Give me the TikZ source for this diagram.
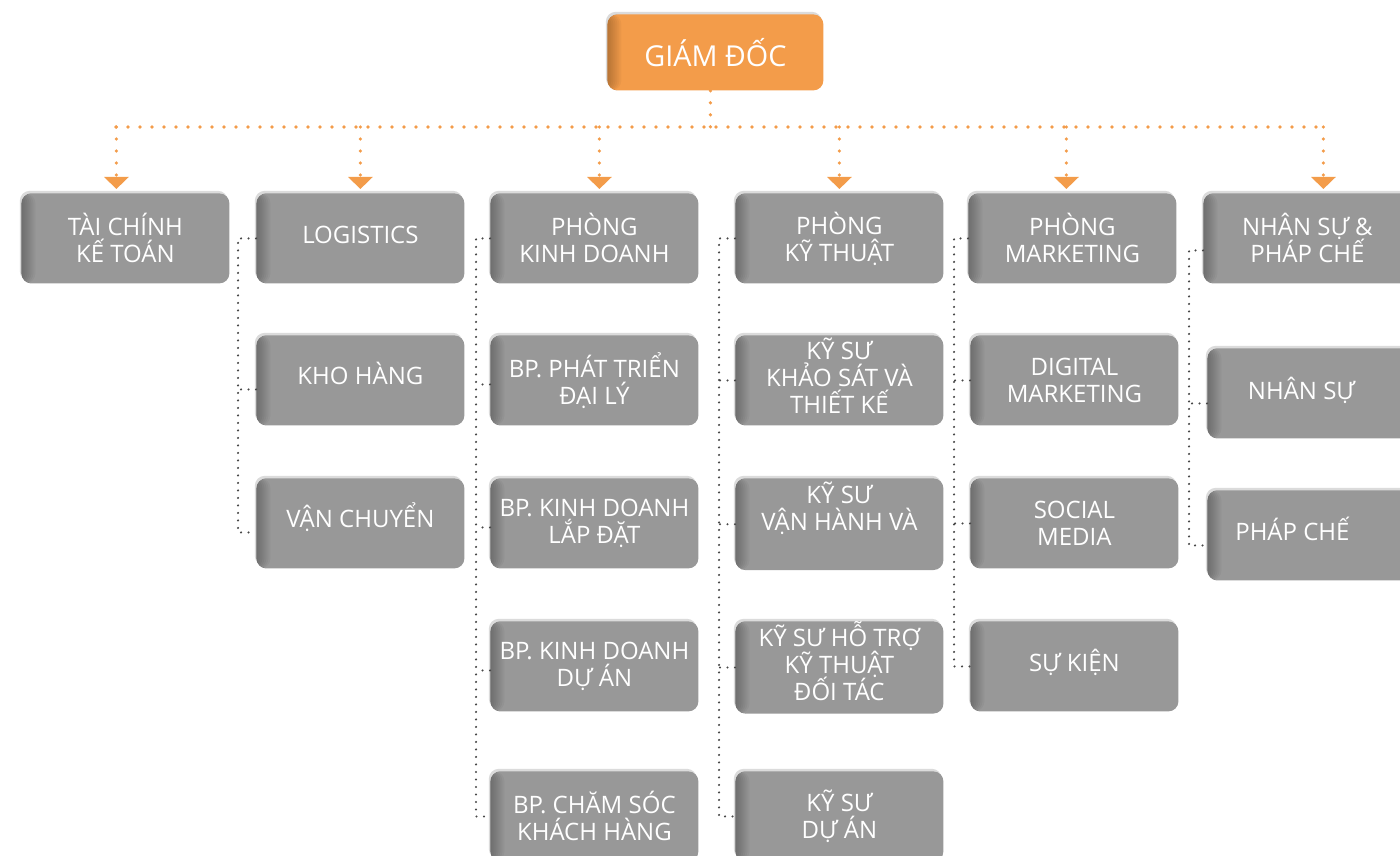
\documentclass[tikz,border=0pt]{standalone}
\usepackage{fontspec}
\setmainfont{Open Sans}
\usetikzlibrary{arrows.meta,shadows}

\definecolor{BoxGray}{HTML}{989898}
\definecolor{Boss}{HTML}{F39C4A}
\definecolor{DotGray}{HTML}{484848}

\tikzset{
    side shade/.style={path picture={
        \foreach \w in {1,...,7}
            \fill[black, opacity=#1] (path picture bounding box.south west)
                rectangle ([xshift=\w pt]path picture bounding box.north west);}},
    unit/.style={anchor=north west, rounded corners=5pt, inner sep=2pt,
        minimum width=104pt, minimum height=45pt, align=center, text=white,
        font={\fontsize{12}{13.5}\selectfont\lineskiplimit=-20pt},
        fill=BoxGray, side shade=0.04,
        general shadow={fill=black!14, shadow xshift=-0.8pt, shadow yshift=1.3pt}},
    boss/.style={unit, minimum width=108pt, minimum height=38pt,
        font={\fontsize{14.4}{16}\selectfont}, fill=Boss, side shade=0.035},
    lift/.style={text depth=#1},
    orgline/.style={Boss, line width=1.8pt, dash pattern=on 0pt off 6pt, line cap=round},
    subline/.style={DotGray, line width=1.15pt, dash pattern=on 0pt off 3.75pt, line cap=round}
}

\begin{document}
\begin{tikzpicture}[x=0.5pt, y=-0.5pt]
    \useasboundingbox (0,0) rectangle (1400,855);
    \clip (0,0) rectangle (1400,855);

    % giam doc
    \node[boss] (gd) at (607,14) {GIÁM ĐỐC};

    % hang 1
    \node[unit] (tc)   at (21,193)   {TÀI CHÍNH\\KẾ TOÁN};
    \node[unit, lift=4pt] (log) at (256,193) {LOGISTICS};
    \node[unit] (pkd)  at (490,193)  {PHÒNG\\KINH DOANH};
    \node[unit] (pkt)  at (735,193)  {PHÒNG\\KỸ THUẬT};
    \node[unit] (pmk)  at (968,193)  {PHÒNG\\MARKETING};
    \node[unit] (nspc) at (1203,193) {NHÂN SỰ \&\\PHÁP CHẾ};

    % cac bo phan
    \node[unit, lift=7pt] (kho) at (256,335) {KHO HÀNG};
    \node[unit, lift=8pt] (vc)  at (256,478) {VẬN CHUYỂN};

    \node[unit] (ptdl) at (490,335)  {BP. PHÁT TRIỂN\\ĐẠI LÝ};
    \node[unit] (kdld) at (490,478)  {BP. KINH DOANH\\LẮP ĐẶT};
    \node[unit] (kdda) at (490,621)  {BP. KINH DOANH\\DỰ ÁN};
    \node[unit] (cskh) at (490,771)  {BP. CHĂM SÓC\\KHÁCH HÀNG};

    \node[unit, inner ysep=0pt, lift=5pt] (kstk) at (735,335) {KỸ SƯ\\KHẢO SÁT VÀ\\THIẾT KẾ};
    \node[unit] (ksvh) at (735,478)  {KỸ SƯ\\VẬN HÀNH VÀ\\\strut};
    \node[unit, inner ysep=0pt, lift=6.5pt] (ksht) at (735,621) {KỸ SƯ HỖ TRỢ\\KỸ THUẬT\\ĐỐI TÁC};
    \node[unit] (ksda) at (735,771)  {KỸ SƯ\\DỰ ÁN};

    \node[unit] (dm)   at (970,335)  {DIGITAL\\MARKETING};
    \node[unit] (sm)   at (970,478)  {SOCIAL\\MEDIA};
    \node[unit, lift=6pt] (sk) at (970,621) {SỰ KIỆN};

    \node[unit, lift=5pt] (ns) at (1207,348) {NHÂN SỰ\hspace{10pt}};
    \node[unit, lift=7pt] (pc) at (1207,490) {PHÁP CHẾ\hspace{19pt}};

    % duong cham cam
    \coordinate (busL) at (116,127);
    \coordinate (busR) at (1323,127);
    \draw[orgline] ([xshift=-2.5pt]gd.south) -- ([xshift=-2.5pt]gd.south |- busL);
    \draw[orgline] (busL) -- (busR);
    \foreach \h/\dx in {tc/-9, log/0, pkd/5, pkt/0, pmk/-6, nspc/16}
        \draw[orgline, -{Triangle[width=12pt,length=6pt]}]
            ([xshift=\dx*0.5pt]\h.north |- busL) -- ([xshift=\dx*0.5pt, yshift=2pt]\h.north);

    % duong cham xam
    \coordinate (sp2) at (238,0);
    \coordinate (sp3) at (476,0);
    \coordinate (sp4) at (719,0);
    \coordinate (sp5) at (954,0);
    \coordinate (sp6) at (1189,0);

    \draw[subline] (log.west) -- (log.west -| sp2) -- ([yshift=-4.5pt]vc.west -| sp2) -- ([yshift=-4.5pt]vc.west);
    \draw[subline] ([yshift=-4.5pt]kho.west) -- ([yshift=-4.5pt]kho.west -| sp2);

    \draw[subline] (pkd.west) -- (pkd.west -| sp3) -- (cskh.west -| sp3) -- (cskh.west);
    \foreach \b in {ptdl, kdld, kdda}
        \draw[subline] ([yshift=-2pt]\b.west) -- ([yshift=-2pt]\b.west -| sp3);

    \draw[subline] (pkt.west) -- (pkt.west -| sp4) -- (ksda.west -| sp4) -- (ksda.west);
    \foreach \b in {kstk, ksvh, ksht}
        \draw[subline] (\b.west) -- (\b.west -| sp4);

    \draw[subline] (pmk.west) -- (pmk.west -| sp5) -- (sk.west -| sp5) -- (sk.west);
    \foreach \b in {dm, sm}
        \draw[subline] (\b.west) -- (\b.west -| sp5);

    \draw[subline] ([yshift=-6pt]nspc.west) -- ([yshift=-6pt]nspc.west -| sp6) -- ([yshift=-5pt]pc.west -| sp6) -- ([yshift=-5pt]pc.west);
    \draw[subline] ([yshift=-5pt]ns.west) -- ([yshift=-5pt]ns.west -| sp6);
\end{tikzpicture}
\end{document}
